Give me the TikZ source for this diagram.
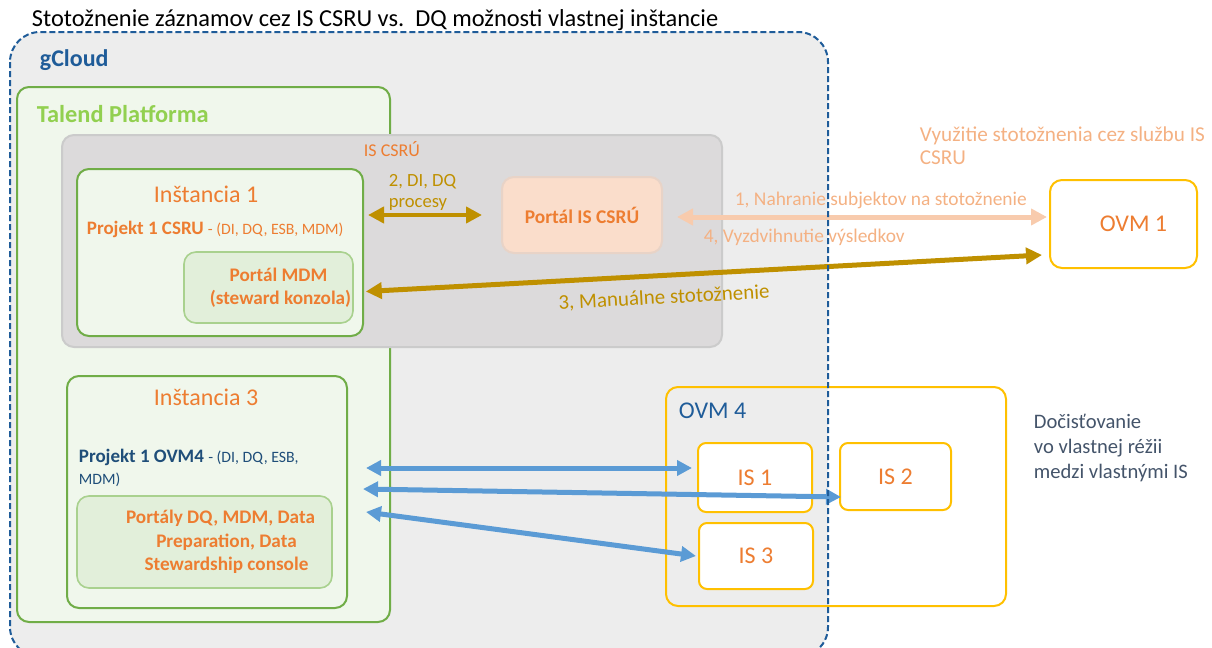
\documentclass[tikz,border=0pt]{standalone}
\usepackage{fontspec}
\setmainfont{Carlito}
\usetikzlibrary{arrows.meta}

\definecolor{cloudblue}{HTML}{1F5C99}
\definecolor{cloudfill}{HTML}{EDEDED}
\definecolor{talendgreen}{HTML}{70AD47}
\definecolor{talendlabel}{HTML}{92D050}
\definecolor{instfill}{HTML}{F0F7EC}
\definecolor{portalfill}{HTML}{E2EFDA}
\definecolor{portalline}{HTML}{A9D18E}
\definecolor{csrufill}{HTML}{DCDADB}
\definecolor{csruline}{HTML}{CBCBCB}
\definecolor{txtorange}{HTML}{ED7D31}
\definecolor{salmon}{HTML}{F4B183}
\definecolor{salmonarrow}{HTML}{F8CBAD}
\definecolor{csruportal}{HTML}{FADDCB}
\definecolor{csruportalline}{HTML}{E8D3C7}
\definecolor{gold}{HTML}{BF9000}
\definecolor{ovmyellow}{HTML}{FFC000}
\definecolor{arrowblue}{HTML}{5B9BD5}
\definecolor{projblue}{HTML}{1F4E79}
\definecolor{notegray}{HTML}{44546A}

\newcommand{\fsz}[1]{\fontsize{#1}{#1}\selectfont}

\tikzset{
  box/.style={draw, line width=1pt, rounded corners=6pt, inner sep=0pt},
  instbox/.style={box, draw=talendgreen, fill=instfill},
  portalbox/.style={box, draw=portalline, fill=portalfill, line width=0.8pt,
    align=center, text=txtorange, font=\fontsize{9.6}{11.5}\selectfont\bfseries},
  ovmbox/.style={box, draw=ovmyellow, fill=white, text=txtorange, font=\fsz{12}},
  txt/.style={anchor=base west, inner sep=0.75pt},
  goldarrow/.style={draw=gold, line width=2pt, {Triangle[length=8pt,width=8pt]}-{Triangle[length=8pt,width=8pt]}},
  salmonline/.style={draw=salmonarrow, line width=2.5pt, {Triangle[length=8pt,width=8pt]}-{Triangle[length=8pt,width=8pt]}},
  bluearrow/.style={draw=arrowblue, line width=2.5pt, {Triangle[length=7.5pt,width=7.5pt]}-{Triangle[length=7.5pt,width=7.5pt]}},
}

\begin{document}
\begin{tikzpicture}[x=0.5pt,y=0.5pt,yscale=-1,xscale=1]
    \path[use as bounding box] (0,0) rectangle (1212,648);
    %Rounded Rect gCloud (fill only, border drawn last)
    \path[fill=cloudfill, rounded corners=15pt] (10,32) rectangle (828,657);
    % Text Node
    \draw (30,26) node [txt, font=\fsz{12.2}] (title) {Stotožnenie záznamov cez IS CSRU vs.\ \ DQ možnosti vlastnej inštancie};
    % Text Node
    \draw (38,66) node [txt, font=\fsz{12}\bfseries, text=cloudblue] (gcloudlbl) {gCloud};
    %Rounded Rect Talend
    \draw (203.5,354.5) node [box, draw=talendgreen, fill=instfill, minimum width=186.5pt, minimum height=267.5pt] (talend) {};
    % Text Node
    \draw (35,122) node [txt, font=\fsz{12.2}\bfseries, text=talendlabel] (talendlbl) {Talend Platforma};
    %Rounded Rect IS CSRU
    \draw (392,241) node [box, draw=csruline, fill=csrufill, minimum width=330pt, minimum height=106pt] (iscsru) {};
    % Text Node
    \draw (362,156) node [txt, font=\fsz{9}, text=txtorange] (iscsrulbl) {IS CSRÚ};
    %Rounded Rect Instancia 1
    \draw (220,252.5) node [instbox, minimum width=143pt, minimum height=83.5pt] (inst1) {};
    % Text Node
    \draw (152,202) node [txt, font=\fsz{12}, text=txtorange] (inst1lbl) {Inštancia 1};
    % Text Node
    \draw (85,234) node [txt, text=txtorange] (proj1) {\fsz{9.5}\bfseries Projekt 1 CSRU \fsz{7.9}\mdseries - (DI, DQ, ESB, MDM)};
    %Rounded Rect Portal MDM
    \draw (268.5,287.5) node [portalbox, minimum width=84.5pt, minimum height=35.5pt] (mdm) {\hspace*{10pt}Portál MDM\\\hspace*{12pt}(steward konzola)};
    %Rounded Rect Portal IS CSRU
    \draw (582,215) node [box, draw=csruportalline, fill=csruportal, minimum width=80pt, minimum height=38pt, text=txtorange, font=\fsz{9.7}\bfseries] (portal) {Portál IS CSRÚ};
    %Rounded Rect OVM 1
    \draw (1123.5,224) node [ovmbox, minimum width=73.5pt, minimum height=44pt] (ovm1) {\hspace*{10pt}OVM 1};
    % Text Node
    \draw (918,164) node [txt, align=left, font=\fontsize{10.6}{11.5}\selectfont, text=salmon] (vyuzitie) {Využitie stotožnenia cez službu IS\\CSRU};
    %Rounded Rect Instancia 3
    \draw (207,492) node [instbox, minimum width=140pt, minimum height=116pt] (inst3) {};
    % Text Node
    \draw (152,405) node [txt, font=\fsz{12}, text=txtorange] (inst3lbl) {Inštancia 3};
    % Text Node
    \draw (77,462) node [txt, text=projblue] (proj3) {\fsz{9.5}\bfseries Projekt 1 OVM4 \fsz{7.9}\mdseries - (DI, DQ, ESB,};
    % Text Node
    \draw (77,484) node [txt, font=\fsz{7.9}, text=projblue] (proj3b) {MDM)};
    %Rounded Rect Portaly
    \draw (204.5,542) node [portalbox, minimum width=127.5pt, minimum height=46pt, font=\fontsize{9.6}{11.8}\selectfont\bfseries] (portaly) {\hspace*{16pt}Portály DQ, MDM, Data\\\hspace*{22pt}Preparation, Data\\\hspace*{22pt}Stewardship console};
    %Rounded Rect OVM 4
    \draw (836,496.5) node [box, draw=ovmyellow, minimum width=170pt, minimum height=109.5pt] (ovm4) {};
    % Text Node
    \draw (677,418) node [txt, font=\fsz{12}, text=cloudblue] (ovm4lbl) {OVM 4};
    %Rounded Rect IS 1
    \draw (755,477.5) node [ovmbox, rounded corners=4pt, minimum width=57pt, minimum height=34.5pt] (is1) {IS 1};
    %Rounded Rect IS 2
    \draw (895.5,476.5) node [ovmbox, rounded corners=4pt, minimum width=55.5pt, minimum height=33.5pt] (is2) {IS 2};
    %Rounded Rect IS 3
    \draw (756,556) node [ovmbox, rounded corners=4pt, minimum width=57pt, minimum height=33pt] (is3) {IS 3};
    % Text Node
    \draw (1032,478) node [txt, align=left, font=\fontsize{10.3}{12.5}\selectfont, text=notegray] (docist) {Dočisťovanie\\vo vlastnej réžii\\medzi vlastnými IS};

    %Arrow 2
    \draw[goldarrow] ([xshift=2pt]inst1.east |- portal.west) -- ([xshift=-9.5pt]portal.west);
    % Text Node
    \draw (387,207) node [txt, align=left, font=\fontsize{9.3}{10.5}\selectfont, text=gold] (step2) {2, DI, DQ\\procesy};
    %Arrow 1 / 4
    \draw[salmonline] ([xshift=7pt,yshift=1pt]portal.east) -- ([xshift=-1pt,yshift=-3.5pt]ovm1.west);
    % Text Node
    \draw (733,205) node [txt, font=\fsz{9.7}, text=salmon] (step1) {1, Nahranie subjektov na stotožnenie};
    % Text Node
    \draw (702,242) node [txt, font=\fsz{9.7}, text=salmon] (step4) {4, Vyzdvihnutie výsledkov};
    %Arrow 3
    \draw[goldarrow, line width=2.5pt] ([xshift=6pt,yshift=2pt]mdm.east) -- ([xshift=-3.5pt,yshift=15.5pt]ovm1.west);
    % Text Node
    \draw (664,298) node [inner sep=0.75pt, rotate=3, font=\fsz{10.5}, text=gold] (step3) {3, Manuálne stotožnenie};

    %Blue arrows
    \draw[bluearrow] ([xshift=9pt,yshift=-12pt]inst3.east) -- ([xshift=-2.5pt,yshift=-4.75pt]is1.west);
    \draw[bluearrow] ([xshift=7.5pt,yshift=-1.5pt]inst3.east) -- ([xshift=1pt,yshift=10.25pt]is2.west);
    \draw[bluearrow] ([xshift=9pt,yshift=10pt]inst3.east) -- ([xshift=-1pt]is3.west);

    %Rounded Rect gCloud border
    \draw[cloudblue, line width=1pt, dash pattern=on 3pt off 1.5pt, rounded corners=15pt] (10,32) rectangle (828,657);
\end{tikzpicture}
\end{document}
